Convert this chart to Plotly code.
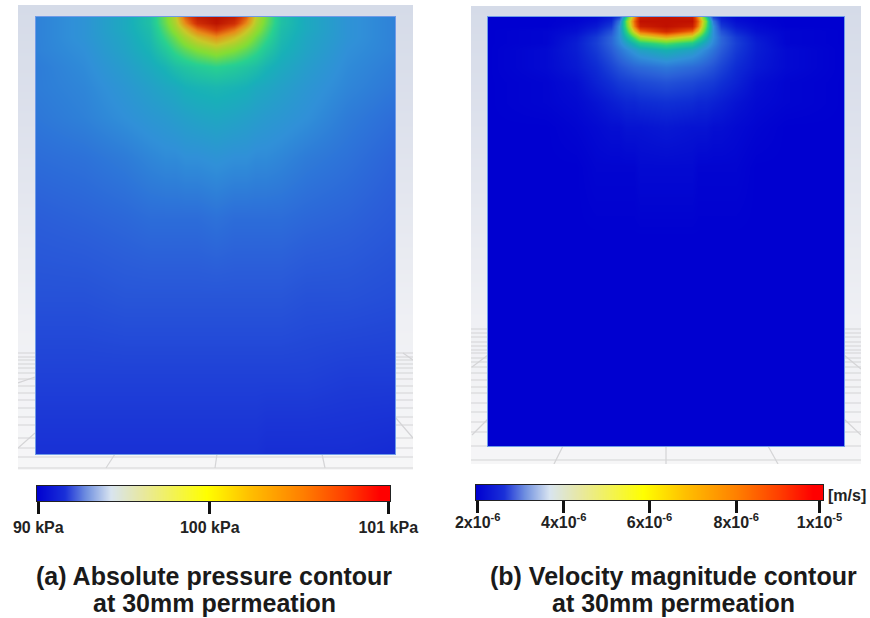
import plotly.graph_objects as go

W, H = 870, 618

# ---------- panel (a): absolute pressure, normalised colour level
pressure_x = [-178, -130, -90, -65, -50, -40, -30, -18, 0, 18, 30, 40, 50, 65, 90, 130, 178]
pressure_depth = [0, 6, 12, 20, 33, 50, 70, 100, 140, 200, 280, 360, 437]
pressure_z = [
    [.27, .31, .38, .45, .58, .68, .85, .97, 1.0, .97, .85, .68, .58, .45, .38, .31, .27],
    [.27, .31, .38, .45, .57, .66, .80, .93, .99, .93, .80, .66, .57, .45, .38, .31, .27],
    [.27, .31, .38, .44, .55, .63, .72, .83, .92, .83, .72, .63, .55, .44, .38, .31, .27],
    [.27, .31, .37, .43, .52, .58, .65, .72, .79, .72, .65, .58, .52, .43, .37, .31, .27],
    [.27, .30, .36, .41, .47, .52, .56, .60, .64, .60, .56, .52, .47, .41, .36, .30, .27],
    [.26, .29, .34, .38, .41, .44, .46, .48, .50, .48, .46, .44, .41, .38, .34, .29, .26],
    [.26, .28, .32, .35, .37, .38, .40, .41, .42, .41, .40, .38, .37, .35, .32, .28, .25],
    [.25, .27, .30, .32, .33, .34, .35, .36, .37, .36, .35, .34, .33, .32, .30, .26, .23],
    [.23, .24, .26, .28, .29, .29, .30, .30, .31, .30, .30, .29, .29, .28, .26, .24, .21],
    [.20, .21, .22, .23, .23, .23, .23, .23, .24, .23, .23, .23, .23, .23, .22, .21, .19],
    [.17, .17, .18, .18, .18, .18, .18, .18, .18, .18, .18, .18, .18, .18, .17, .17, .16],
    [.13, .13, .13, .13, .13, .13, .13, .13, .13, .13, .13, .13, .13, .13, .13, .12, .12],
    [.09, .09, .09, .09, .09, .09, .09, .09, .09, .09, .09, .09, .08, .08, .08, .08, .07],
]

# ---------- panel (b): velocity magnitude
velocity_x = [-178, -120, -90, -70, -55, -47, -40, -32, -26, 0, 26, 32, 40, 47, 55, 70, 90, 120, 178]
velocity_depth = [0, 4, 9, 14, 20, 26, 33, 50, 65, 85, 110, 150, 220, 429]
velocity_z = [
    [0, 0, .01, .02, .06, .15, .50, .80, .98, 1, .98, .80, .50, .15, .06, .02, .01, 0, 0],
    [0, 0, .01, .03, .08, .25, .58, .85, 1, 1, 1, .85, .58, .25, .08, .03, .01, 0, 0],
    [0, 0, .02, .05, .12, .30, .55, .82, .97, 1, .97, .82, .55, .30, .12, .05, .02, 0, 0],
    [0, .01, .03, .08, .17, .30, .50, .72, .85, .95, .85, .72, .50, .30, .17, .08, .03, .01, 0],
    [0, .01, .05, .12, .21, .30, .42, .55, .66, .75, .66, .55, .42, .30, .21, .12, .05, .01, 0],
    [0, .01, .06, .13, .21, .28, .35, .42, .48, .55, .48, .42, .35, .28, .21, .13, .06, .01, 0],
    [0, .02, .06, .12, .19, .24, .28, .32, .35, .40, .35, .32, .28, .24, .19, .12, .06, .02, 0],
    [0, .02, .05, .09, .14, .17, .19, .21, .22, .25, .22, .21, .19, .17, .14, .09, .05, .02, 0],
    [0, .01, .03, .07, .10, .12, .13, .14, .15, .17, .15, .14, .13, .12, .10, .07, .03, .01, 0],
    [0, .01, .02, .04, .06, .07, .08, .08, .09, .10, .09, .08, .08, .07, .06, .04, .02, .01, 0],
    [0, 0, .01, .02, .03, .03, .04, .04, .04, .05, .04, .04, .04, .03, .03, .02, .01, 0, 0],
    [0, 0, 0, .01, .01, .01, .01, .01, .02, .02, .02, .01, .01, .01, .01, .01, 0, 0, 0],
    [0] * 19,
    [0] * 19,
]

# ---------- colour bars
bar_levels = [0, .25, .5, .75, 1]
bar_a_ticks = [0.005, 0.49, 0.995]
bar_a_labels = ["<b>90 kPa</b>", "<b>100 kPa</b>", "<b>101 kPa</b>"]
bar_b_ticks = [0.005, 0.253, 0.5, 0.75, 0.99]
bar_b_labels = ["<b>2x10<sup>-6</sup></b>", "<b>4x10<sup>-6</sup></b>", "<b>6x10<sup>-6</sup></b>",
                "<b>8x10<sup>-6</sup></b>", "<b>1x10<sup>-5</sup></b>"]

# ---------- viewport backdrop (page pixels)
frame_levels_y = [5, 120, 320, 470]
frame_levels = [0, .35, .8, 1]
floor_a_y = [353, 357, 360, 364, 368, 373, 379, 386, 393, 400, 408, 417, 425, 438, 448, 457, 468]
floor_b_y = [329, 333, 337, 342, 346, 350, 353, 358, 362, 367, 373, 380, 387, 393, 403, 412, 422, 432, 446, 460]
rays_a = [((18, 383), (35, 377)), ((18, 448), (35, 433)), ((395, 417), (413, 438)), ((403, 353), (413, 360)),
          ((115, 454), (106, 468)), ((217, 454), (215, 468)), ((322, 454), (325, 468))]
rays_b = [((472, 435), (488, 419)), ((472, 367), (488, 355)), ((844, 419), (861, 435)), ((844, 355), (861, 369)),
          ((563, 446), (554, 464)), ((666, 446), (666, 464)), ((768, 446), (778, 464))]

scale_a = [[0, "#0a14cc"], [.1, "#1a34d6"], [.2, "#2b5ed9"], [.3, "#3090d8"], [.4, "#18b0b8"],
           [.5, "#28d090"], [.6, "#82dd35"], [.7, "#c8c828"], [.8, "#e88a18"], [.9, "#d83c08"], [1, "#b81000"]]
scale_b = [[0, "#0000d0"], [.1, "#1030d4"], [.2, "#2a60d8"], [.3, "#3090d8"], [.4, "#15b0b0"],
           [.5, "#25d080"], [.6, "#80e030"], [.7, "#d0d020"], [.8, "#f09010"], [.9, "#e04000"], [1, "#c01000"]]
scale_bar = [[0, "#0000d0"], [.08, "#1a30d8"], [.14, "#7090e0"], [.21, "#d8e4f0"], [.3, "#e8e8a0"],
             [.48, "#ffff00"], [.6, "#ffc000"], [.75, "#ff8000"], [.87, "#ff4000"], [.97, "#ff0000"], [1, "#ff0000"]]
scale_frame = [[0, "#d5dbe8"], [.35, "#dde1ec"], [.8, "#eff0f4"], [1, "#f6f6f7"]]


def dom_x(a, b):
    return [a / W, b / W]


def dom_y(a, b):
    return [1 - b / H, 1 - a / H]


def lines(ys, x0, x1, rays):
    xs, yy = [], []
    for y in ys:
        xs += [x0, x1, None]
        yy += [y, y, None]
    for p, q in rays:
        xs += [p[0], q[0], None]
        yy += [p[1], q[1], None]
    return xs, yy


fig = go.Figure()

# backdrop frames and floor grid
for n, (x0, x1, ys, rays) in enumerate([(18, 413, floor_a_y, rays_a), (471, 861, floor_b_y, rays_b)]):
    xa, ya = ("x", "y") if n == 0 else ("x2", "y2")
    fig.add_trace(go.Heatmap(x=[x0, x1], y=frame_levels_y, z=[[v, v] for v in frame_levels],
                             colorscale=scale_frame, zmin=0, zmax=1, zsmooth="best", showscale=False,
                             hoverinfo="skip", xaxis=xa, yaxis=ya))
    xs, yy = lines(ys, x0, x1, rays)
    fig.add_trace(go.Scatter(x=xs, y=yy, mode="lines", line=dict(color="#d4d4d6", width=1.2),
                             hoverinfo="skip", showlegend=False, xaxis=xa, yaxis=ya))

fig.add_trace(go.Heatmap(x=pressure_x, y=pressure_depth, z=pressure_z, colorscale=scale_a, zmin=0, zmax=1,
                         zsmooth="best", showscale=False, xaxis="x3", yaxis="y3"))
fig.add_trace(go.Heatmap(x=velocity_x, y=velocity_depth, z=velocity_z, colorscale=scale_b, zmin=0, zmax=1,
                         zsmooth="best", showscale=False, xaxis="x4", yaxis="y4"))
fig.add_trace(go.Heatmap(x=bar_levels, y=[0, 1], z=[bar_levels, bar_levels], colorscale=scale_bar, zmin=0, zmax=1,
                         zsmooth="best", showscale=False, xaxis="x5", yaxis="y5"))
fig.add_trace(go.Heatmap(x=bar_levels, y=[0, 1], z=[bar_levels, bar_levels], colorscale=scale_bar, zmin=0, zmax=1,
                         zsmooth="best", showscale=False, xaxis="x6", yaxis="y6"))

hidden = dict(visible=False, fixedrange=True, automargin=False)
edge = dict(visible=True, showline=True, mirror=True, linecolor="#6f9be8", linewidth=1, automargin=False,
            showticklabels=False, ticks="", showgrid=False, zeroline=False)
bar_font = dict(family="Liberation Sans, Arial, sans-serif", size=16, color="#222222")
bar_y = dict(visible=True, showline=True, mirror=True, linecolor="#222222", linewidth=1, automargin=False,
             showticklabels=False, ticks="", showgrid=False, zeroline=False, range=[0, 1])


def bar_x(domain, vals, text, standoff):
    return dict(domain=domain, range=[0, 1], tickmode="array", tickvals=vals, ticktext=text,
                ticks="outside", ticklen=12, tickwidth=3, tickcolor="#111111", tickfont=bar_font,
                ticklabelstandoff=standoff, automargin=False,
                showline=True, mirror=True, linecolor="#222222", linewidth=1, showgrid=False, zeroline=False)


fig.update_layout(
    width=W, height=H, margin=dict(l=0, r=0, t=0, b=0), autosize=False,
    paper_bgcolor="white", plot_bgcolor="rgba(0,0,0,0)", showlegend=False,
    xaxis=dict(domain=dom_x(18, 413), range=[18, 413], anchor="y", **hidden),
    yaxis=dict(domain=dom_y(5, 470), range=[470, 5], anchor="x", **hidden),
    xaxis2=dict(domain=dom_x(471, 861), range=[471, 861], anchor="y2", **hidden),
    yaxis2=dict(domain=dom_y(6, 464), range=[464, 6], anchor="x2", **hidden),
    xaxis3=dict(domain=dom_x(36, 395), range=[-178, 178], anchor="y3", **edge),
    yaxis3=dict(domain=dom_y(17, 454), range=[437, 0], anchor="x3", **edge),
    xaxis4=dict(domain=dom_x(488, 844), range=[-178, 178], anchor="y4", **edge),
    yaxis4=dict(domain=dom_y(17, 446), range=[429, 0], anchor="x4", **edge),
    xaxis5=dict(anchor="y5", **bar_x(dom_x(36.5, 390), bar_a_ticks, bar_a_labels, 0)),
    yaxis5=dict(domain=dom_y(486, 501), anchor="x5", **bar_y),
    xaxis6=dict(anchor="y6", **bar_x(dom_x(476, 823), bar_b_ticks, bar_b_labels, -4)),
    yaxis6=dict(domain=dom_y(485, 500), anchor="x6", **bar_y),
)

title_font = dict(family="Liberation Sans, Arial, sans-serif", size=25, color="#1a1a1a")
for x, y, text in [(214, 576, "<b>(a) Absolute pressure contour</b>"), (214, 603, "<b>at 30mm permeation</b>"),
                   (673, 576, "<b>(b) Velocity magnitude contour</b>"), (673, 603, "<b>at 30mm permeation</b>")]:
    fig.add_annotation(x=x / W, y=1 - y / H, xref="paper", yref="paper", text=text, showarrow=False,
                       font=title_font, xanchor="center", yanchor="middle")
fig.add_annotation(x=826 / W, y=1 - 495 / H, xref="paper", yref="paper", text="<b>[m/s]</b>", showarrow=False,
                   font=dict(family="Liberation Sans, Arial, sans-serif", size=16, color="#222222"),
                   xanchor="left", yanchor="middle")

fig.write_html("out.html", config=dict(displayModeBar=False),
               post_script="document.body.style.margin='0';")
